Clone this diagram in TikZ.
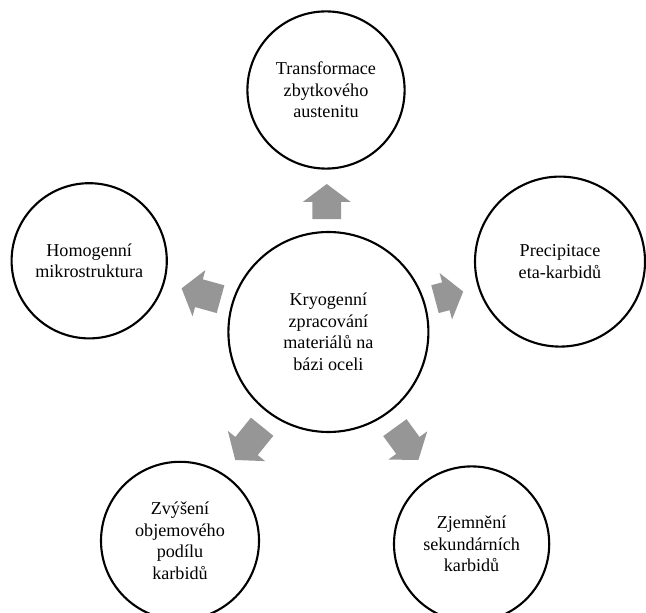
\documentclass[tikz,border=0pt]{standalone}
\usepackage{fontspec}
\setmainfont{Liberation Serif}
\definecolor{arrowgray}{RGB}{150,150,150}
\tikzset{
  bubble/.style={circle, draw, line width=1.5pt, align=center, inner sep=0pt,
    font=\fontsize{12.9}{15.3}\selectfont},
  blockarrow/.pic={\fill[arrowgray] (0,0) -- (-0.45,0.6) -- (-0.45,0.36) -- (-0.45-#1,0.36)
    -- (-0.45-#1,-0.36) -- (-0.45,-0.36) -- (-0.45,-0.6) -- cycle;}
}
\begin{document}
\begin{tikzpicture}
    \useasboundingbox (0,0) rectangle (16.15,15.3);

    % centre and the five effects
    \node[bubble, minimum size=5cm] (core) at (8.21,7.0)
        {Kryogenní\\zpracování\\materiálů na\\bázi oceli};
    \node[bubble, minimum size=3.93cm] (trans) at (8.15,13.05)
        {Transformace\\zbytkového\\austenitu};
    \node[bubble, minimum size=3.88cm] (homog) at (2.23,8.78)
        {Homogenní\\mikrostruktura};
    \node[bubble, minimum size=4.25cm] (precip) at (14.0,8.76)
        {Precipitace\\eta-karbidů};
    \node[bubble, minimum size=3.95cm] (objem) at (4.5,1.78)
        {Zvýšení\\objemového\\podílu\\karbidů};
    \node[bubble, minimum size=3.88cm] (zjemn) at (11.79,1.7)
        {Zjemnění\\sekundárních\\karbidů};

    % block arrows, tip at the given point
    \pic[rotate=90]    at (8.17,10.7) {blockarrow=0.43};
    \pic[rotate=164.5] at (4.54,8.09) {blockarrow=0.56};
    \pic[rotate=15]    at (11.58,8.01) {blockarrow=0.28};
    \pic[rotate=231]   at (5.88,3.8)  {blockarrow=0.62};
    \pic[rotate=-54]   at (10.46,3.8) {blockarrow=0.55};
\end{tikzpicture}
\end{document}
